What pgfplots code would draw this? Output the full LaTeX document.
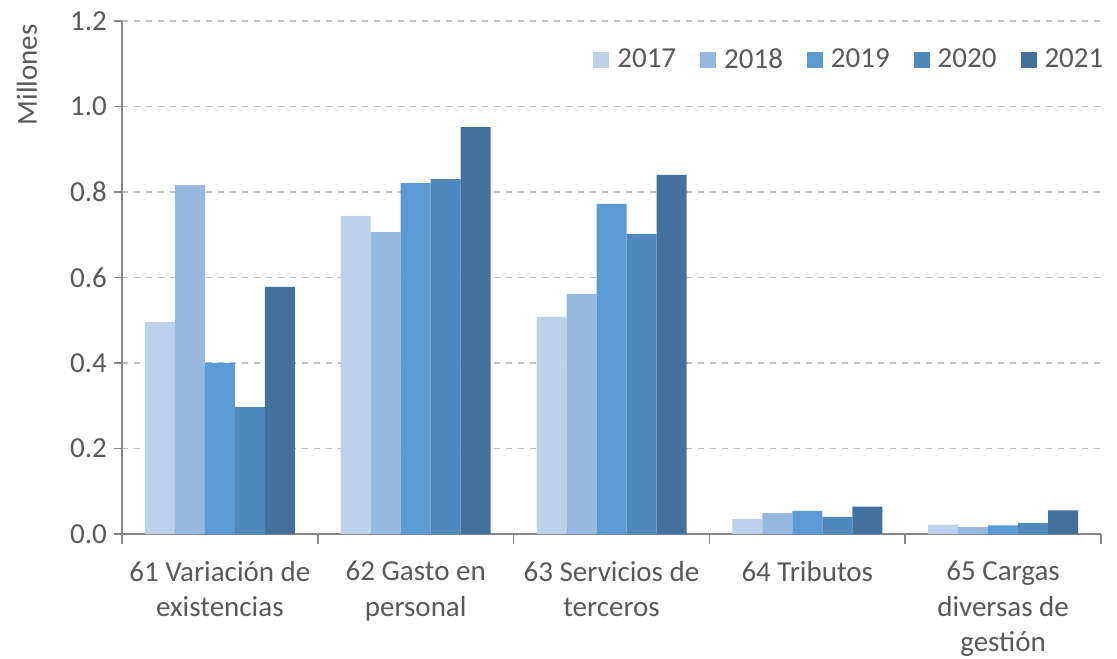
\documentclass[border=0pt]{standalone}
\usepackage{pgfplots}
\pgfplotsset{compat=1.18}
\usepackage{fontspec}
\setmainfont{Carlito}
\definecolor{c17}{HTML}{BDD1EA}
\definecolor{c18}{HTML}{97B8DF}
\definecolor{c19}{HTML}{5A9BD5}
\definecolor{c20}{HTML}{4E88BC}
\definecolor{c21}{HTML}{41719C}
\definecolor{txt}{HTML}{595959}
\definecolor{axc}{HTML}{868686}
\definecolor{grd}{HTML}{BFBFBF}
\begin{document}
\begin{tikzpicture}
\begin{axis}[
  name=ax,
  at={(0,0)}, anchor=south west,
  scale only axis,
  width=489.5pt, height=256.5pt,
  ybar=0pt, bar width=15pt,
  xmin=-0.5, xmax=4.5,
  ymin=0, ymax=1.2,
  ytick={0,0.2,...,1.2},
  yticklabel style={text=txt, font=\fontsize{14.5}{17}\selectfont, /pgf/number format/fixed, /pgf/number format/fixed zerofill, /pgf/number format/precision=1},
  xtick={0,1,2,3,4},
  xticklabels={{61 Variación de\\existencias},{62 Gasto en\\personal},{63 Servicios de\\terceros},{64 Tributos},{65 Cargas\\diversas de\\gestión}},
  xticklabel style={align=center, text=txt, font=\fontsize{14.5}{17.7}\selectfont, yshift=-6pt},
  major x tick style={draw=none},
  minor xtick={-0.5,0.5,...,4.5},
  minor x tick style={draw=axc, line width=0.8pt},
  minor tick length=5pt,
  tick align=outside,
  major tick length=4pt,
  ytick style={draw=axc, line width=0.8pt},
  axis x line*=bottom, axis y line*=left,
  axis line style={draw=axc, line width=0.8pt, -},
  ymajorgrids, grid style={dashed, grd, line width=0.8pt},
  /pgf/number format/assume math mode=true,
  legend columns=5,
  legend style={draw=none, fill=none, at={(rel axis cs:1.013,0.924)}, anchor=east, font=\fontsize{14.5}{17}\selectfont, text=txt,
    /tikz/every even column/.append style={column sep=10pt}},
  legend image code/.code={\fill[#1] (0pt,-4pt) rectangle (8pt,4pt); \path (10pt,0pt);},
  clip=false,
]
\addplot[fill=c17, draw=none] coordinates {(0,0.496) (1,0.744) (2,0.508) (3,0.035) (4,0.022)};
\addplot[fill=c18, draw=none] coordinates {(0,0.816) (1,0.706) (2,0.561) (3,0.049) (4,0.016)};
\addplot[fill=c19, draw=none] coordinates {(0,0.400) (1,0.821) (2,0.772) (3,0.054) (4,0.020)};
\addplot[fill=c20, draw=none] coordinates {(0,0.297) (1,0.830) (2,0.702) (3,0.040) (4,0.026)};
\addplot[fill=c21, draw=none] coordinates {(0,0.578) (1,0.952) (2,0.840) (3,0.064) (4,0.055)};
\legend{2017,2018,2019,2020,2021}
\node[rotate=90, text=txt, font=\fontsize{14.5}{17}\selectfont] at (rel axis cs:-0.097,0.895) {Millones};
\end{axis}
\pgfresetboundingbox
\path (-61pt,-62pt) rectangle (497.5pt,267pt);
\end{tikzpicture}
\end{document}
